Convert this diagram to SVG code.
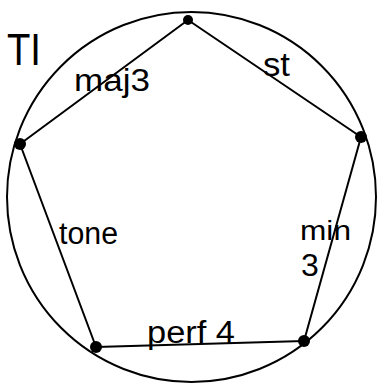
<svg xmlns="http://www.w3.org/2000/svg" width="378" height="384" viewBox="0 0 378 384">
<style>
.edge{stroke:#000;stroke-width:2;fill:none;stroke-linecap:round}
.dot{fill:#000}
.lbl{font-family:"Liberation Sans","DejaVu Sans",sans-serif;fill:#000}
</style>
<rect width="378" height="384" fill="#fff"/>
<g id="circle"><ellipse cx="191.5" cy="197" rx="184.5" ry="185" class="edge"/></g>
<text class="lbl" x="7" y="65" font-size="44" font-weight="300" textLength="34" lengthAdjust="spacingAndGlyphs">TI</text>
<g id="connectors">
<line class="edge" x1="188" y1="20" x2="361" y2="137"/>
<line class="edge" x1="361" y1="137" x2="304" y2="341"/>
<line class="edge" x1="304" y1="341" x2="96" y2="347"/>
<line class="edge" x1="96" y1="347" x2="20" y2="144"/>
<line class="edge" x1="20" y1="144" x2="188" y2="20"/>
<text class="lbl" x="74" y="91" font-size="31" textLength="76" lengthAdjust="spacingAndGlyphs">maj3</text>
<text class="lbl" x="263" y="76" font-size="34" textLength="27" lengthAdjust="spacingAndGlyphs">st</text>
<text class="lbl" x="59" y="244" font-size="31" textLength="59" lengthAdjust="spacingAndGlyphs">tone</text>
<text class="lbl" x="147" y="343" font-size="31" textLength="88" lengthAdjust="spacingAndGlyphs">perf 4</text>
<text class="lbl" x="300" y="240" font-size="28" textLength="51" lengthAdjust="spacingAndGlyphs">min</text>
<text class="lbl" x="301" y="276" font-size="32">3</text>
</g>
<g id="n1"><circle class="dot" cx="188" cy="20" r="5"/></g>
<g id="n2"><circle class="dot" cx="361" cy="137" r="6"/></g>
<g id="n3"><circle class="dot" cx="304" cy="341" r="6"/></g>
<g id="n4"><circle class="dot" cx="96" cy="347" r="6"/></g>
<g id="n5"><circle class="dot" cx="20" cy="144" r="6"/></g>
</svg>
